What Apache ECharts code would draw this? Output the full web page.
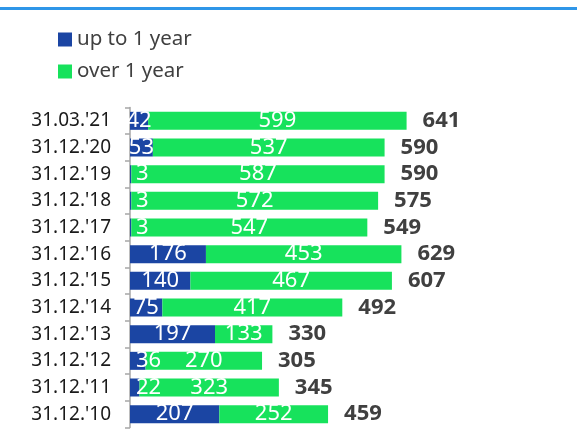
<!DOCTYPE html>
<html>
<head>
<meta charset="utf-8">
<style>
  html, body { margin: 0; padding: 0; background: #fff; }
  #chart { width: 577px; height: 433px; }
</style>
<script src="https://cdn.jsdelivr.net/npm/echarts@6/dist/echarts.min.js"></script>
</head>
<body>
<div id="chart"></div>
<script>
// categories, top to bottom
var dates = ["31.03.'21", "31.12.'20", "31.12.'19", "31.12.'18", "31.12.'17", "31.12.'16",
             "31.12.'15", "31.12.'14", "31.12.'13", "31.12.'12", "31.12.'11", "31.12.'10"];
var upTo1Year = [42, 53, 3, 3, 3, 176, 140, 75, 197, 36, 22, 207];
var over1Year = [599, 537, 587, 572, 547, 453, 467, 417, 133, 270, 323, 252];
var totals = [641, 590, 590, 575, 549, 629, 607, 492, 330, 305, 345, 459];

var BLUE = "#1b45a3", GREEN = "#17e25c";

var chart = echarts.init(document.getElementById("chart"));

// small blue segments: label sits just right of the axis
var blueData = upTo1Year.map(function (v) {
    if (v < 40) {
        return { value: v, label: { position: "insideLeft", distance: 6 } };
    }
    return v;
});

var option = {
    animation: false,
    textStyle: { fontFamily: "'Noto Sans', sans-serif" },
    graphic: [
        { // blue rule under the (cut off) page title
            type: "rect",
            left: 0, top: 7,
            shape: { width: 577, height: 3 },
            style: { fill: "#2f96e8" }
        }
    ],
    legend: {
        data: ["up to 1 year", "over 1 year"],
        orient: "vertical",
        left: 53,
        top: 24,
        icon: "rect",
        itemWidth: 14,
        itemHeight: 14,
        itemGap: 11,
        itemStyle: { borderWidth: 0 },
        textStyle: { fontSize: 20.5, color: "#404040", padding: [0, 0, 0, 0] }
    },
    grid: {
        left: 130,
        right: 15.5,
        top: 107.5,
        bottom: 5.5,
        containLabel: false
    },
    xAxis: {
        type: "value",
        min: 0,
        max: 1000,
        show: false
    },
    yAxis: {
        type: "category",
        inverse: true,
        data: dates,
        axisLine: { lineStyle: { color: "#a6a6a6", width: 1.5 } },
        axisTick: { show: true, length: 5, lineStyle: { color: "#a6a6a6", width: 1.5 } },
        axisLabel: { fontSize: 19, color: "#1a1a1a", margin: 19 }
    },
    series: [
        {
            name: "up to 1 year",
            type: "bar",
            stack: "a",
            barWidth: 18,
            itemStyle: { color: BLUE },
            label: { show: true, position: "inside", color: "#fff", fontSize: 22 },
            data: blueData
        },
        {
            name: "over 1 year",
            type: "bar",
            stack: "a",
            barWidth: 18,
            itemStyle: { color: GREEN },
            label: { show: true, position: "inside", color: "#fff", fontSize: 22 },
            data: over1Year
        },
        {
            name: "total",
            type: "bar",
            stack: "a",
            barWidth: 18,
            itemStyle: { color: "transparent" },
            label: {
                show: true,
                position: "right",
                distance: 16,
                fontSize: 22,
                fontWeight: "bold",
                color: "#404040",
                formatter: function (p) { return totals[p.dataIndex]; }
            },
            data: totals.map(function () { return 0; })
        }
    ]
};

chart.setOption(option);
</script>
</body>
</html>
